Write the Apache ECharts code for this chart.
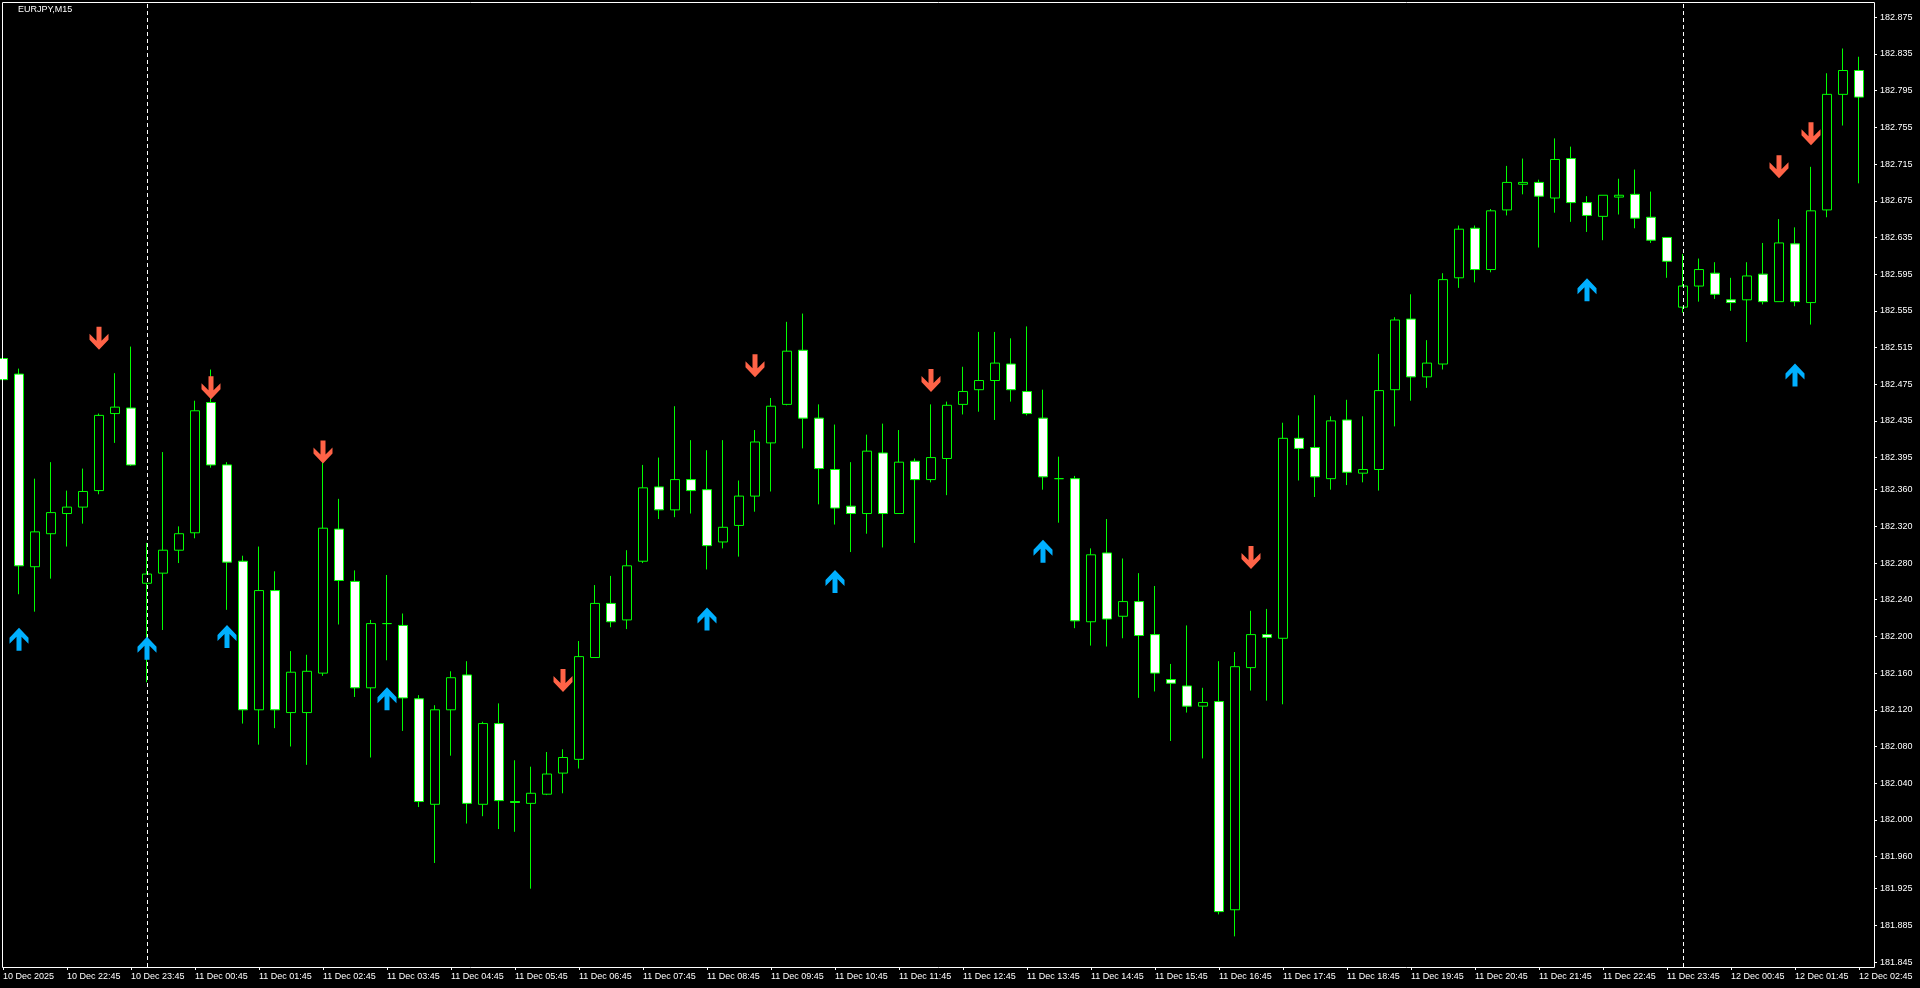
<!DOCTYPE html>
<html><head><meta charset="utf-8">
<script src="https://cdn.jsdelivr.net/npm/echarts@6/dist/echarts.min.js"></script>
<style>html,body{margin:0;padding:0;background:#000;overflow:hidden;width:1920px;height:988px;position:relative}
#c{position:absolute;left:-8px;top:0;width:1928px;height:988px;}</style>
</head><body><div id="c"></div>
<script>
// ---- data (EURJPY M15, 10 Dec 2025 21:45 .. 12 Dec 2025 02:45) ----
const openP = [
182.503,182.486,182.276,182.312,182.334,182.341,182.359,182.443,182.449,182.258,
182.269,182.294,182.313,182.455,182.387,182.282,182.120,182.250,182.117,182.117,
182.160,182.317,182.260,182.144,182.214,182.212,182.132,182.017,182.120,182.158,
182.017,182.105,182.020,182.018,182.028,182.051,182.066,182.177,182.236,182.218,
182.282,182.363,182.338,182.371,182.360,182.303,182.321,182.353,182.411,182.453,
182.512,182.438,182.382,182.342,182.334,182.400,182.334,182.391,182.371,182.394,
182.453,182.469,182.479,182.497,182.467,182.438,182.372,182.372,182.216,182.291,
182.222,182.238,182.202,182.153,182.146,182.124,182.129,181.902,182.166,182.202,
182.198,182.416,182.406,182.372,182.436,182.378,182.382,182.469,182.546,182.483,
182.497,182.591,182.645,182.600,182.665,182.693,182.695,182.678,182.721,182.673,
182.658,182.679,182.682,182.657,182.635,182.559,182.582,182.596,182.567,182.567,
182.595,182.565,182.628,182.564,182.665,182.791,182.817];
const closeP = [
182.480,182.277,182.314,182.335,182.341,182.358,182.441,182.450,182.387,182.268,
182.294,182.312,182.446,182.387,182.281,182.120,182.250,182.120,182.161,182.162,
182.318,182.261,182.144,182.214,182.214,182.133,182.020,182.120,182.155,182.018,
182.105,182.021,182.019,182.029,182.050,182.068,182.178,182.236,182.216,182.277,
182.362,182.338,182.371,182.359,182.299,182.319,182.353,182.412,182.451,182.511,
182.438,182.383,182.340,182.334,182.402,182.334,182.390,182.371,182.395,182.452,
182.467,182.479,182.498,182.469,182.443,182.374,182.372,182.217,182.289,182.219,
182.238,182.201,182.160,182.149,182.124,182.128,181.900,182.167,182.202,182.199,
182.416,182.405,182.374,182.435,182.379,182.382,182.468,182.545,182.483,182.498,
182.589,182.644,182.600,182.664,182.695,182.695,182.680,182.720,182.673,182.659,
182.681,182.681,182.656,182.632,182.609,182.582,182.600,182.573,182.564,182.593,
182.565,182.629,182.565,182.664,182.791,182.817,182.788];
const lowP = [
182.422,182.246,182.227,182.263,182.298,182.323,182.355,182.411,182.386,182.150,
182.207,182.280,182.307,182.384,182.229,182.105,182.082,182.100,182.080,182.060,
182.157,182.213,182.134,182.068,182.174,182.097,182.014,181.953,182.070,181.996,
182.004,181.990,181.987,181.925,182.027,182.029,182.056,182.177,182.210,182.208,
182.280,182.328,182.330,182.334,182.273,182.296,182.287,182.336,182.358,182.452,
182.405,182.344,182.322,182.292,182.312,182.297,182.334,182.302,182.368,182.354,
182.442,182.445,182.436,182.456,182.441,182.360,182.324,182.209,182.190,182.189,
182.198,182.133,182.140,182.086,182.117,182.067,181.897,181.873,182.141,182.130,
182.126,182.370,182.352,182.360,182.365,182.368,182.359,182.429,182.457,182.471,
182.491,182.580,182.586,182.597,182.659,182.682,182.624,182.662,182.652,182.641,
182.632,182.660,182.645,182.629,182.591,182.553,182.565,182.568,182.555,182.521,
182.562,182.565,182.560,182.540,182.657,182.757,182.694];
const highP = [
182.547,182.492,182.372,182.390,182.359,182.383,182.443,182.487,182.516,182.302,
182.401,182.320,182.457,182.491,182.390,182.288,182.298,182.271,182.184,182.180,
182.390,182.350,182.272,182.218,182.267,182.225,182.136,182.125,182.162,182.173,
182.107,182.127,182.065,182.058,182.074,182.077,182.195,182.256,182.266,182.294,
182.387,182.395,182.451,182.414,182.403,182.414,182.370,182.425,182.460,182.543,
182.552,182.453,182.431,182.390,182.420,182.432,182.425,182.394,182.453,182.456,
182.494,182.532,182.532,182.525,182.538,182.469,182.396,182.375,182.296,182.328,
182.285,182.269,182.255,182.170,182.212,182.144,182.173,182.183,182.228,182.230,
182.433,182.441,182.463,182.440,182.458,182.440,182.508,182.548,182.573,182.523,
182.596,182.648,182.648,182.666,182.713,182.721,182.698,182.743,182.734,182.680,
182.681,182.699,182.709,182.685,182.635,182.617,182.612,182.608,182.591,182.608,
182.629,182.655,182.646,182.712,182.814,182.841,182.832];

// signal arrows: bar index + price level
const upArrowBars   = [1, 9, 14, 24, 44, 52, 65, 99, 112];
const upArrowPrices = [182.197, 182.187, 182.200, 182.132, 182.219, 182.260, 182.293, 182.578, 182.485];
const downArrowBars   = [6, 13, 20, 35, 47, 58, 78, 111, 113];
const downArrowPrices = [182.525, 182.471, 182.401, 182.152, 182.495, 182.479, 182.286, 182.712, 182.748];

// axis ticks / labels
const priceTicks = [181.845,181.885,181.925,181.960,182.000,182.040,182.080,182.120,182.160,182.200,
  182.240,182.280,182.320,182.360,182.395,182.435,182.475,182.515,182.555,182.595,182.635,182.675,
  182.715,182.755,182.795,182.835,182.875];
const xTickLabels = ['10 Dec 2025','10 Dec 22:45','10 Dec 23:45',
  '11 Dec 00:45','11 Dec 01:45','11 Dec 02:45','11 Dec 03:45','11 Dec 04:45','11 Dec 05:45',
  '11 Dec 06:45','11 Dec 07:45','11 Dec 08:45','11 Dec 09:45','11 Dec 10:45','11 Dec 11:45',
  '11 Dec 12:45','11 Dec 13:45','11 Dec 14:45','11 Dec 15:45','11 Dec 16:45','11 Dec 17:45',
  '11 Dec 18:45','11 Dec 19:45','11 Dec 20:45','11 Dec 21:45','11 Dec 22:45','11 Dec 23:45',
  '12 Dec 00:45','12 Dec 01:45','12 Dec 02:45'];
const daySeparators = ['11 Dec 00:00', '12 Dec 00:00'];
const firstBar = {day: 10, month: 'Dec', minutes: 21 * 60 + 45};
const barMinutes = 15;

// ---- categories (bar open times) ----
const categories = openP.map((_, i) => {
  const t = firstBar.minutes + i * barMinutes;
  const d = firstBar.day + Math.floor(t / 1440);
  const m = t % 1440;
  const hh = String(Math.floor(m / 60)).padStart(2, '0');
  const mm = String(m % 60).padStart(2, '0');
  return d + ' ' + firstBar.month + ' ' + hh + ':' + mm;
});

const FONT = 'Liberation Sans';
const SHIFT = 8; // container is shifted 8px left so the first bar sits half-clipped at the frame
const chart = echarts.init(document.getElementById('c'), null, {renderer: 'canvas'});
const option = {
  backgroundColor: '#000',
  animation: false,
  title: {
    text: 'EURJPY,M15', left: 18 + SHIFT, top: 5, padding: 0,
    textStyle: {color: '#fff', fontSize: 9, fontWeight: 'normal', fontFamily: FONT}
  },
  grid: {left: 3, right: 53, top: 3, bottom: 21},
  xAxis: {
    type: 'category', data: categories, boundaryGap: true,
    axisLine: {show: false},
    axisTick: {show: true, alignWithLabel: true, length: 3,
      interval: (i) => i % 4 === 0, lineStyle: {color: '#fff'}},
    axisLabel: {
      interval: (i) => i % 4 === 0,
      formatter: (v, i) => xTickLabels[Math.round(i / 4)] || '',
      color: '#fff', fontSize: 9, fontFamily: FONT, align: 'left', margin: 5
    },
    splitLine: {show: false}
  },
  yAxis: {
    type: 'value', position: 'right', offset: 7,
    min: 181.8396, max: 182.8906,
    axisLine: {show: false},
    axisTick: {show: true, length: 3, customValues: priceTicks, lineStyle: {color: '#fff'}},
    axisLabel: {customValues: priceTicks, formatter: (v) => Number(v).toFixed(3),
      color: '#fff', fontSize: 9, fontFamily: FONT, margin: 6},
    splitLine: {show: false}
  },
  graphic: [{
    type: 'rect', silent: true, z: 100,
    shape: {x: 2.5 + SHIFT, y: 2.5, width: 1872, height: 965},
    style: {fill: 'none', stroke: '#fff', lineWidth: 1}
  }],
  series: [
    {
      type: 'candlestick',
      data: openP.map((o, i) => [o, closeP[i], lowP[i], highP[i]]),
      barWidth: 10,
      itemStyle: {color: '#000', color0: '#fff', borderColor: '#00ff00',
        borderColor0: '#00ff00', borderColorDoji: '#00ff00', borderWidth: 1},
      markLine: {
        silent: true, symbol: ['none', 'none'], label: {show: false},
        lineStyle: {color: '#fff', type: [4, 3], width: 1},
        data: daySeparators.map((d) => ({xAxis: d}))
      },
      z: 2
    },
    {
      type: 'scatter',
      data: upArrowBars.map((b, i) => [b, upArrowPrices[i]]),
      symbol: 'path://M0,16L0,10L9.5,0L19,10L19,16L12,9L12,23L7,23L7,9Z',
      symbolSize: [19, 23],
      itemStyle: {color: '#00b0ff', opacity: 1},
      z: 5
    },
    {
      type: 'scatter',
      data: downArrowBars.map((b, i) => [b, downArrowPrices[i]]),
      symbol: 'path://M0,7L0,13L9.5,23L19,13L19,7L12,14L12,0L7,0L7,14Z',
      symbolSize: [19, 23],
      itemStyle: {color: '#ff6347', opacity: 1},
      z: 5
    }
  ]
};
chart.setOption(option);
</script>
</body></html>
